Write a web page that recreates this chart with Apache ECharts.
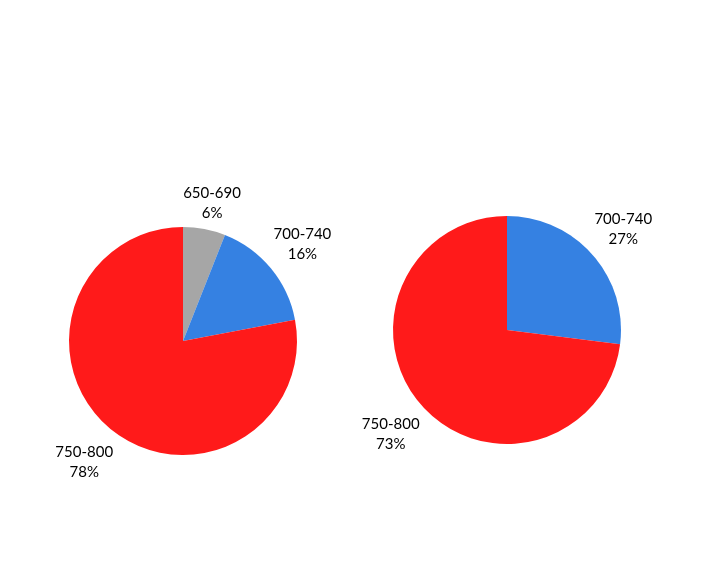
<!DOCTYPE html>
<html>
<head>
<meta charset="utf-8">
<script src="https://cdn.jsdelivr.net/npm/echarts@6/dist/echarts.min.js"></script>
<style>html,body{margin:0;padding:0;background:#fff}#chart{width:722px;height:568px}</style>
</head>
<body>
<div id="chart"></div>
<script>
const leftCategories = ['650-690', '700-740', '750-800'];
const leftValues = [6, 16, 78];
const rightCategories = ['700-740', '750-800'];
const rightValues = [27, 73];
const colorMap = { '650-690': '#a6a6a6', '700-740': '#3581e2', '750-800': '#ff1a1a' };

function mainData(cats, vals) {
  return cats.map((c, i) => ({ name: c, value: vals[i], itemStyle: { color: colorMap[c] } }));
}
// labels of small slices sit a bit closer to the pie: a spacer line pushes them down
function labelData(cats, vals, nearSlices) {
  return cats.map((c, i) => {
    const d = { name: c, value: vals[i] };
    if (nearSlices && nearSlices.indexOf(c) >= 0) d.label = { formatter: '{s| }\n{b}\n{d}%' };
    return d;
  });
}
const labelStyle = {
  show: true, position: 'inside', formatter: '{b}\n{d}%',
  fontFamily: 'Lato', fontSize: 15, lineHeight: 20, color: '#000', align: 'center',
  rich: { s: { lineHeight: 25, fontSize: 1 } }
};
function pieSeries(center, cats, vals) {
  return {
    type: 'pie', center: center, radius: 114, startAngle: 90, clockwise: true,
    silent: true, label: { show: false }, labelLine: { show: false },
    data: mainData(cats, vals)
  };
}
function labelSeries(center, cats, vals, nearSlices) {
  return {
    type: 'pie', center: center, radius: [110, 194], startAngle: 90, clockwise: true,
    silent: true, itemStyle: { color: 'rgba(0,0,0,0)' }, label: labelStyle,
    labelLine: { show: false }, emphasis: { disabled: true },
    data: labelData(cats, vals, nearSlices)
  };
}
const chart = echarts.init(document.getElementById('chart'));
chart.setOption({
  animation: false,
  series: [
    pieSeries([183, 341], leftCategories, leftValues),
    pieSeries([507, 330], rightCategories, rightValues),
    labelSeries([183, 343], leftCategories, leftValues, ['650-690']),
    labelSeries([507, 332], rightCategories, rightValues)
  ]
});
</script>
</body>
</html>
